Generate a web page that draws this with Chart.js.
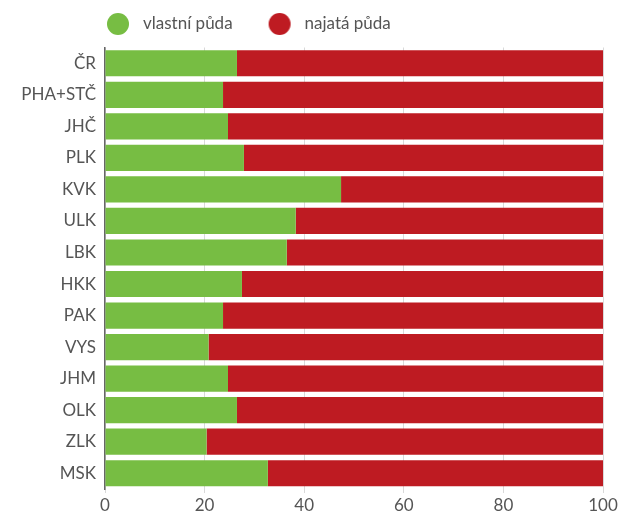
<!DOCTYPE html>
<html>
<head>
<meta charset="utf-8">
<script src="https://cdn.jsdelivr.net/npm/chart.js@4/dist/chart.umd.min.js"></script>
<style>
html,body{margin:0;padding:0;background:#fff;}
#wrap{width:629px;height:512px;position:relative;}
</style>
</head>
<body>
<div id="wrap"><canvas id="c" width="629" height="512"></canvas></div>
<script>
const categories = ["ČR","PHA+STČ","JHČ","PLK","KVK","ULK","LBK","HKK","PAK","VYS","JHM","OLK","ZLK","MSK"];
const seriesNames = ["vlastní půda","najatá půda"];
const ownedLand = [26.5,23.7,24.7,27.9,47.4,38.3,36.5,27.5,23.7,20.8,24.7,26.5,20.4,32.7];
const rentedLand = [73.5,76.3,75.3,72.1,52.6,61.7,63.5,72.5,76.3,79.2,75.3,73.5,79.6,67.3];
const xTicks = [0,20,40,60,80,100];

const GREEN = '#77bd43';
const RED = '#be1b22';
const TEXT = '#555555';
const FONT = 'Lato';

function circleImg(color){
  const cv = document.createElement('canvas');
  cv.width = 41; cv.height = 24;
  const g = cv.getContext('2d');
  g.fillStyle = color;
  g.beginPath();
  g.arc(29, 12, 11, 0, Math.PI*2);
  g.fill();
  return cv;
}
const legendImgs = [circleImg(GREEN), circleImg(RED)];

const legendShift = {
  id: 'legendShift',
  afterLayout(chart){
    const l = chart.legend;
    if (!l) return;
    const dx = 71 - l.left;
    l.left += dx; l.right += dx;
    l.top -= 5; l.bottom -= 5;
  }
};

new Chart(document.getElementById('c'), {
  type: 'bar',
  data: {
    labels: categories,
    datasets: [
      {label: seriesNames[0], data: ownedLand, backgroundColor: GREEN, borderWidth: 0, categoryPercentage: 1, barPercentage: 0.83},
      {label: seriesNames[1], data: rentedLand, backgroundColor: RED, borderWidth: 0, categoryPercentage: 1, barPercentage: 0.83}
    ]
  },
  options: {
    indexAxis: 'y',
    responsive: false,
    animation: false,
    devicePixelRatio: 1,
    layout: {padding: {top: 7, right: 26, left: 0, bottom: 0}},
    plugins: {
      legend: {
        position: 'top',
        align: 'start',
        labels: {
          usePointStyle: true,
          pointStyleWidth: 50,
          padding: 13.5,
          color: TEXT,
          font: {family: FONT, size: 17},
          generateLabels(chart){
            const items = Chart.defaults.plugins.legend.labels.generateLabels(chart);
            items.forEach((it, i) => { it.pointStyle = legendImgs[i]; });
            return items;
          }
        }
      },
      tooltip: {enabled: false}
    },
    scales: {
      x: {
        stacked: true,
        min: 0, max: 100,
        afterBuildTicks(scale){ scale.ticks = xTicks.map(v => ({value: v})); },
        afterFit(scale){ scale.height = 23; },
        grid: {color: '#d9d9d9', lineWidth: 1, drawTicks: true, tickLength: 4},
        border: {display: false},
        ticks: {color: TEXT, font: {family: FONT, size: 17, lineHeight: 1.1}, padding: 3, maxRotation: 0}
      },
      y: {
        stacked: true,
        afterFit(scale){ scale.width = 105; },
        grid: {display: false, drawTicks: false},
        border: {display: true, color: '#666666', width: 1.5},
        ticks: {color: TEXT, font: {family: FONT, size: 17}, padding: 9}
      }
    }
  },
  plugins: [legendShift]
});
</script>
</body>
</html>
